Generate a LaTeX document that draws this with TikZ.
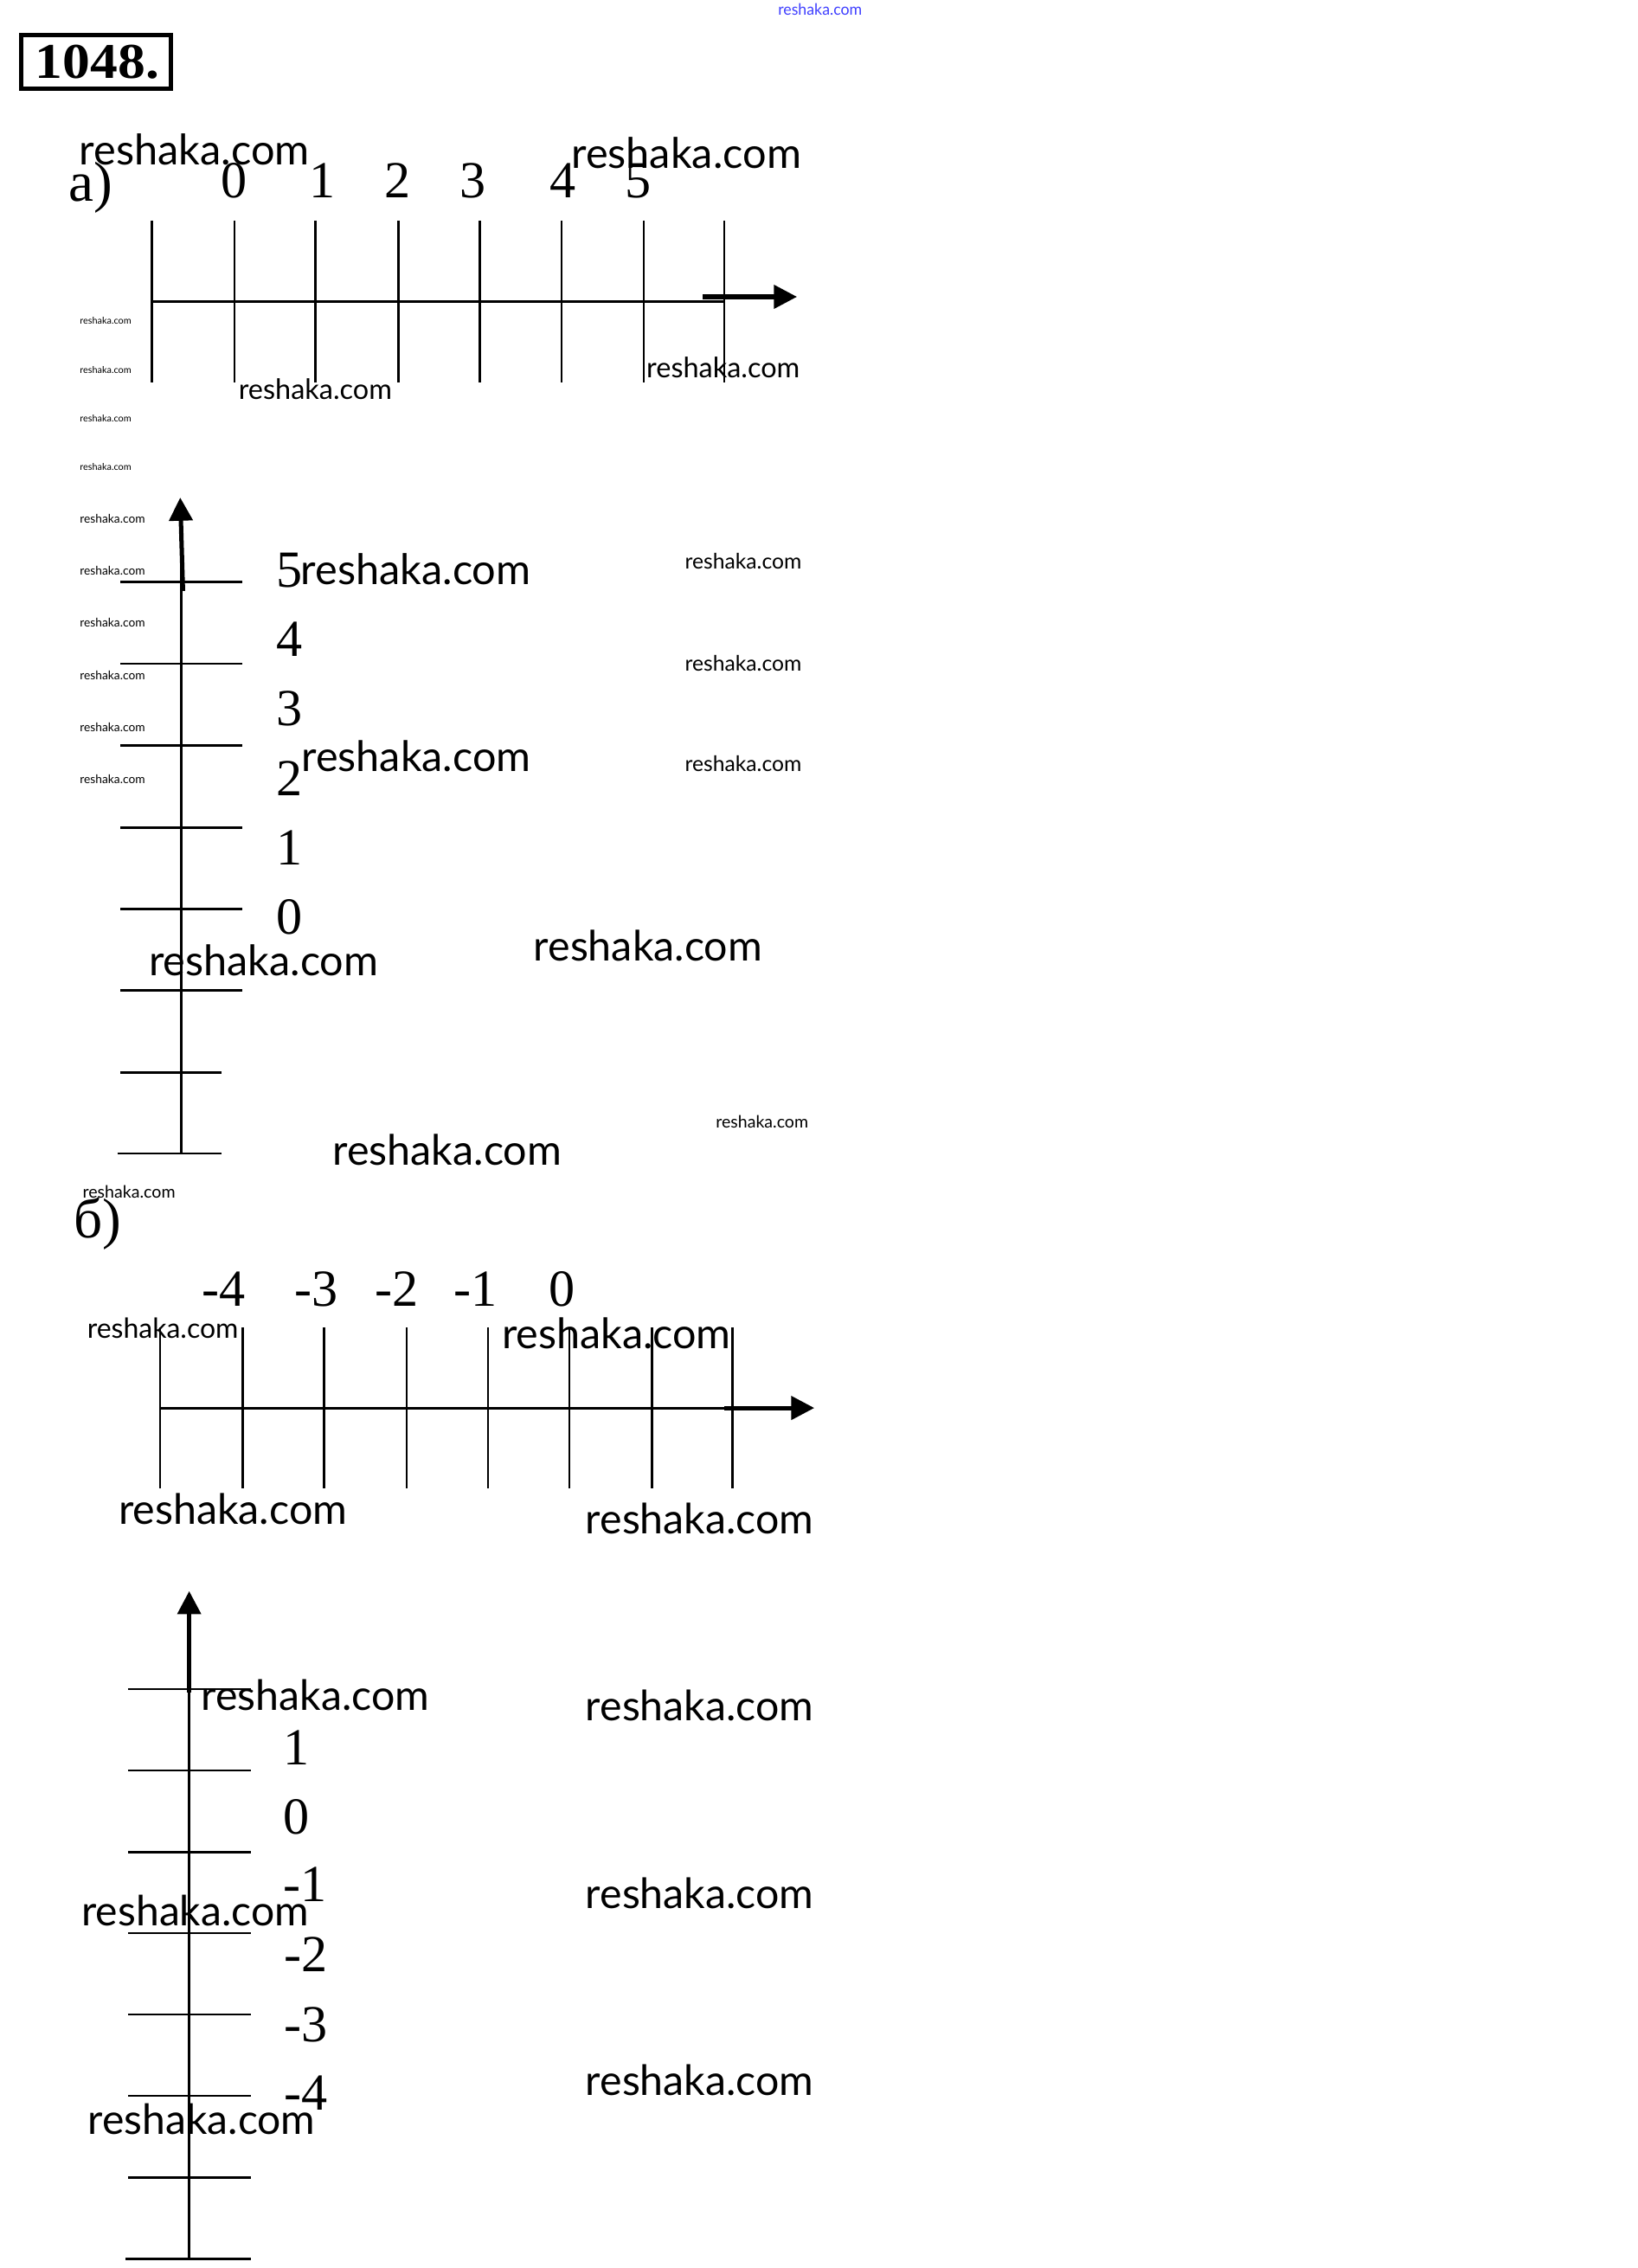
\documentclass[tikz,border=0pt]{standalone}
\usepackage{fontspec}
\usepackage{graphicx}
\newfontfamily\wmfont{Lato}
\newfontfamily\numfont{Liberation Serif}
\usetikzlibrary{arrows.meta}
\newcommand\rwm[1]{\resizebox{#1pt}{!}{\wmfont reshaka.com}}
\begin{document}
\begin{tikzpicture}[x=1pt,y=-1pt,
  wm/.style={inner sep=0pt,outer sep=0pt,anchor=west},
  num/.style={inner sep=0pt,font=\numfont\fontsize{36}{36}\selectfont},
  lbl/.style={inner sep=0pt,font=\numfont\fontsize{39}{39}\selectfont},
  thinline/.style={line width=1.6pt},
  shaft/.style={line width=3pt,-{Triangle[length=16pt,width=16pt]}}]
\useasboundingbox[fill=white] (0,0) rectangle (1132,1568);

% header
\node[wm,text=blue!75!white] (top) at (538,6.5) {\resizebox{58pt}{8pt}{\wmfont reshaka.com}};
\draw[line width=3pt] (14.5,24.2) rectangle (118,61.3);
\node[inner sep=0pt,font=\numfont\bfseries\fontsize{34.6}{35}\selectfont] (num) at (67.3,42.7) {\scalebox{1.1}[1]{1048.}};

% ---------- a) horizontal ----------
\node[lbl] (la) at (62.5,130) {а)};
\foreach \x [count=\i] in {104.9,162.1,218.2,275.4,331.8,388.3,445.1,500.8}
  \draw[thinline] (\x,152.5) coordinate (at\i) -- (\x,264.2);
\coordinate (ax0) at (104.9,208.3);
\coordinate (ax1) at (500.8,208.3);
\draw[thinline] (ax0) -- (ax1);
\coordinate (aa0) at (486,205.2);
\coordinate (aa1) at (551,205.2);
\draw[shaft] (aa0) -- (aa1);
\foreach \x/\t [count=\i] in {162/0,223/1,275/2,327/3,389/4,441/5}
  \node[num] (ha\i) at (\x,125) {\t};

% ---------- a) vertical ----------
\foreach \y [count=\i] in {402.5,458.8,515.2,572.1,628.5,684.8}
  \draw[thinline] (83.3,\y) coordinate (vt\i) -- (167.8,\y);
\draw[thinline] (83.3,741.5) -- (153.3,741.5);
\draw[thinline] (81.2,797.5) -- (153.3,797.5);
\coordinate (av0) at (125.5,797.5);
\coordinate (av1) at (125.5,359);
\draw[thinline] (av0) -- (av1);
\coordinate (avs) at (126.5,408.5);
\coordinate (avt) at (124.6,344);
\draw[shaft] (avs) -- (avt);
\foreach \y/\t [count=\i] in {394/5,442/4,490/3,538/2,586/1,634/0}
  \node[num] (va\i) at (200,\y) {\t};

% ---------- b) horizontal ----------
\node[lbl] (lb) at (67.7,846) {б)};
\foreach \x [count=\i] in {110.6,167.8,223.9,281.1,337.5,393.6,450.8,506.5}
  \draw[thinline] (\x,917.6) coordinate (bt\i) -- (\x,1029);
\coordinate (bx0) at (110.6,973.6);
\coordinate (bx1) at (506.5,973.6);
\draw[thinline] (bx0) -- (bx1);
\coordinate (ba0) at (501,973.4);
\coordinate (ba1) at (563,973.4);
\draw[shaft] (ba0) -- (ba1);
\foreach \x/\t [count=\i] in {154.5/-4,218.7/-3,274.5/-2,329/-1,388.3/0}
  \node[num] (hb\i) at (\x,891) {\t};

% ---------- b) vertical ----------
\foreach \y [count=\i] in {1167.7,1224,1280.4,1336.5,1392.7,1449,1505.5}
  \draw[thinline] (88.5,\y) coordinate (wt\i) -- (173.5,\y);
\draw[thinline] (87,1561.9) -- (173.5,1561.9);
\coordinate (bv0) at (130.8,1562);
\coordinate (bv1) at (130.8,1116);
\draw[thinline] (bv0) -- (bv1);
\coordinate (bvs) at (130.8,1170);
\coordinate (bvt) at (130.8,1100);
\draw[shaft] (bvs) -- (bvt);
\foreach \x/\y/\t [count=\i] in {205/1208/1,205/1256/0,210.7/1303/-1,211.6/1351/-2,211.6/1400/-3,211.6/1447/-4}
  \node[num] (vb\i) at (\x,\y) {\t};

% ---------- watermarks ----------
\foreach \x/\y/\w [count=\i] in {
  55/103.5/159, 395/105.5/159, 165/269/106, 447/254/106,
  55.3/221.9/35.5, 55.3/255.6/35.5, 55.3/289.1/35.5, 55.3/322.7/35.5,
  55.3/358.7/45, 55.3/394.8/45, 55.3/430.7/45, 55.3/466.8/45, 55.3/502.7/45, 55.3/538.7/45,
  208/393.5/159, 208.5/523/158.5, 473.6/388/80.6, 473.6/458.4/80.6, 473.6/528/80.6,
  103/664/158.6, 369/653.6/158, 495/775.7/63.8, 230/795/158.3,
  57.2/824/64,
  60.3/918/104.5, 347/921.5/158.4, 82/1043.5/158, 405/1050/157.6,
  139.2/1172/157.6, 405/1179/157.6, 56.5/1320.7/157, 405/1308.8/157.6, 405/1438/157.6, 61/1465/157}
  \node[wm] (wm\i) at (\x,\y) {\rwm{\w}};
\end{tikzpicture}
\end{document}
